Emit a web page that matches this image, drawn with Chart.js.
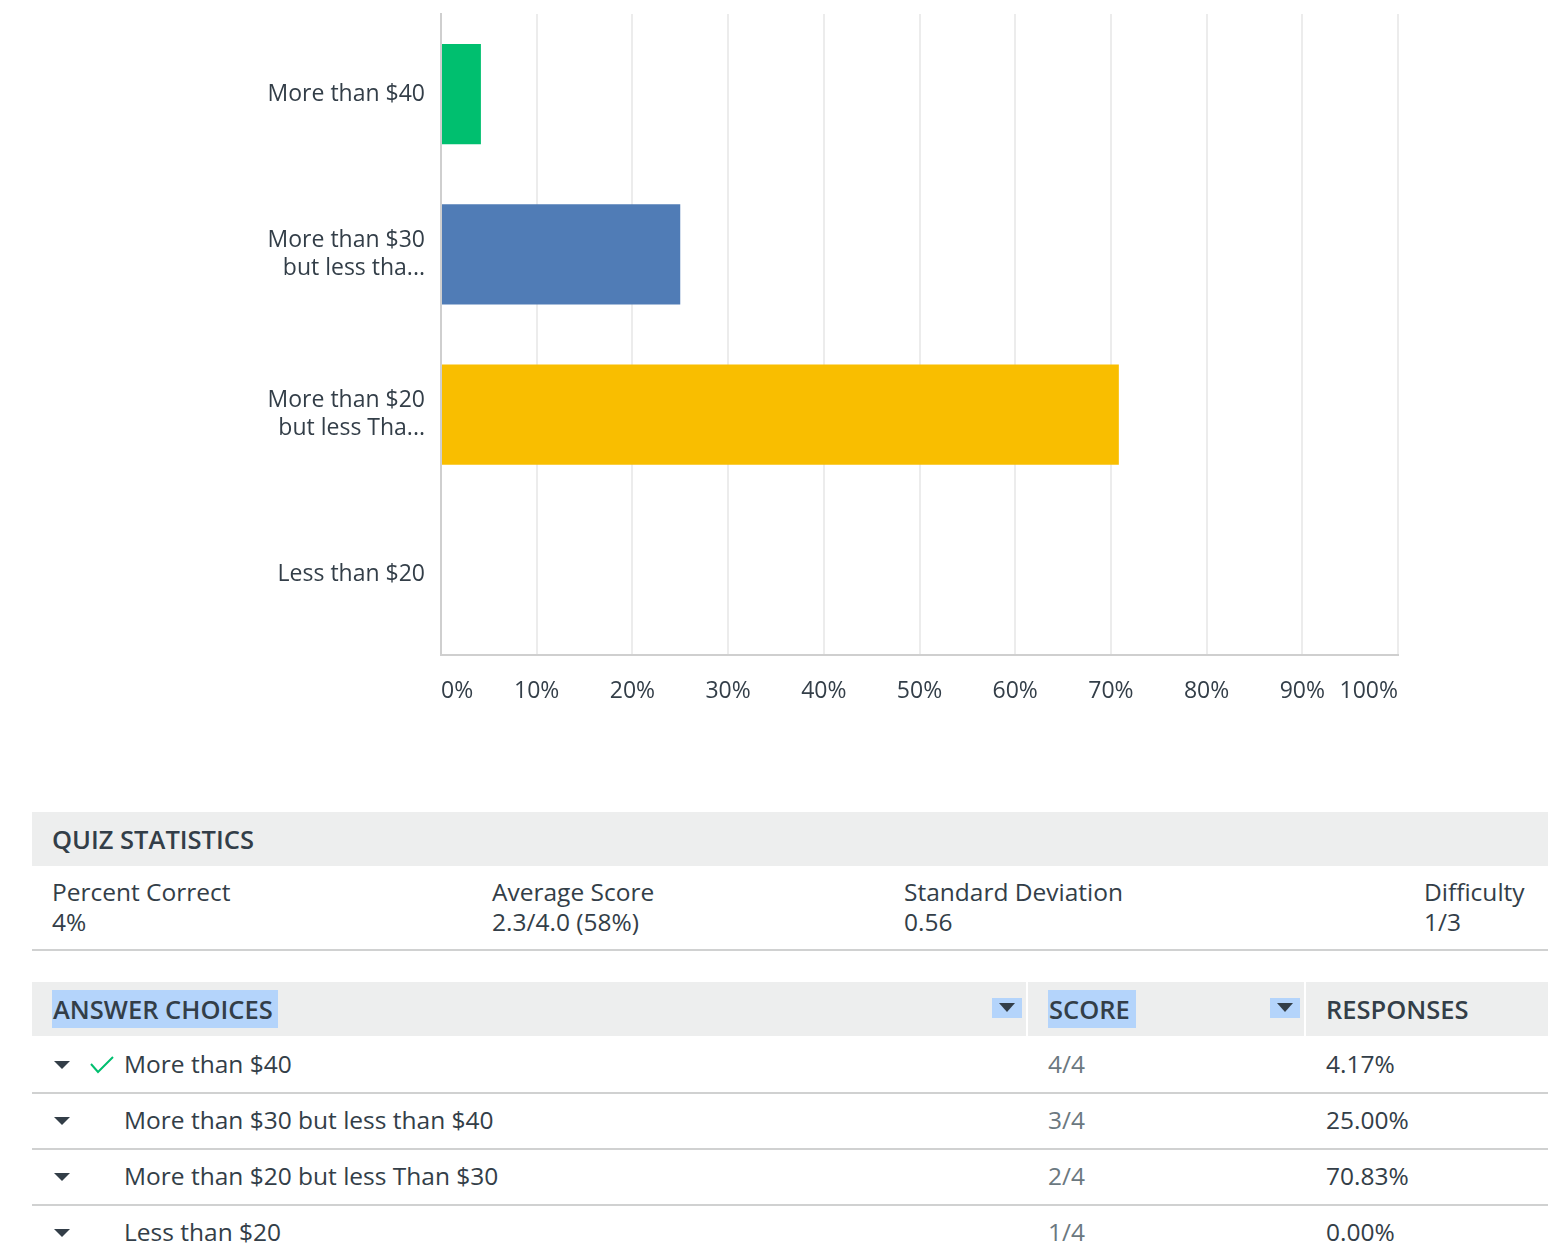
<!DOCTYPE html>
<html>
<head>
<meta charset="utf-8">
<script src="https://cdn.jsdelivr.net/npm/chart.js@4"></script>
<style>
  html, body { margin: 0; padding: 0; background: #fff; width: 1548px; height: 1258px; overflow: hidden; }
  body { font-family: "Open Sans", sans-serif; color: #333e48; position: relative; }
  #chartBox { position: absolute; left: 0; top: 0; width: 1548px; height: 740px; }
  .band { position: absolute; background: #edeeee; }
  .abs { position: absolute; white-space: nowrap; font-size: 24.5px; line-height: 30px; }
  .hdr { font-weight: 600; font-size: 25.5px; }
  .sel { background: #b4d4fb; }
  .rule { position: absolute; left: 32px; width: 1516px; height: 2px; background: #d0d1d1; }
  .caret { position: absolute; width: 0; height: 0; border-left: 8px solid transparent; border-right: 8px solid transparent; border-top: 8px solid #333e48; }
  .sortbox { position: absolute; width: 30px; height: 20px; background: #b4d4fb; }
  .sortbox::after { content: ""; position: absolute; left: 7px; top: 5px; border-left: 8px solid transparent; border-right: 8px solid transparent; border-top: 9px solid #333e48; }
  .score { color: #6b787f; }
</style>
</head>
<body>
<div id="chartBox"><canvas id="c" width="1548" height="740"></canvas></div>

<!-- Quiz statistics -->
<div class="band" style="left:32px; top:812px; width:1516px; height:54px;"></div>
<div class="abs hdr" style="left:52px; top:824px;">QUIZ STATISTICS</div>
<div id="stats"></div>
<div class="rule" style="top:949px;"></div>

<!-- Answer choices table -->
<div class="band" style="left:32px; top:982px; width:994px; height:54px;"></div>
<div class="band" style="left:1028px; top:982px; width:276px; height:54px;"></div>
<div class="band" style="left:1306px; top:982px; width:242px; height:54px;"></div>
<div class="abs hdr" style="left:52px; top:994px;"><span class="sel" style="padding:2px 5px 2px 1px;">ANSWER CHOICES</span></div>
<div class="sortbox" style="left:992px; top:998px;"></div>
<div class="abs hdr" style="left:1048px; top:994px;"><span class="sel" style="padding:2px 6px 2px 1px;">SCORE</span></div>
<div class="sortbox" style="left:1270px; top:998px;"></div>
<div class="abs hdr" style="left:1326px; top:994px;">RESPONSES</div>
<div id="rows"></div>

<script>
// ---- data ----
const categories = [["More than $40"], ["More than $30", "but less tha..."], ["More than $20", "but less Tha..."], ["Less than $20"]];
const responses = [4.17, 25.00, 70.83, 0.00];
const barColors = ["#00bf6f", "#507cb6", "#f9be00", "#6bc8cd"];
const xTicks = [0, 10, 20, 30, 40, 50, 60, 70, 80, 90, 100];

const fullChoices = ["More than $40", "More than $30 but less than $40", "More than $20 but less Than $30", "Less than $20"];
const scores = ["4/4", "3/4", "2/4", "1/4"];
const correct = [true, false, false, false];
const statLabels = ["Percent Correct", "Average Score", "Standard Deviation", "Difficulty"];
const statValues = ["4%", "2.3/4.0 (58%)", "0.56", "1/3"];
const statX = [52, 492, 904, 1424];

// ---- stats ----
const statsEl = document.getElementById('stats');
statLabels.forEach((l, i) => {
  const d = document.createElement('div');
  d.className = 'abs';
  d.style.left = statX[i] + 'px';
  d.style.top = '877px';
  d.innerHTML = l + '<br>' + statValues[i];
  statsEl.appendChild(d);
});

// ---- rows ----
const rowsEl = document.getElementById('rows');
fullChoices.forEach((c, i) => {
  const top = 1036 + i * 56;
  const mid = top + 29;
  let h = '';
  h += `<div class="caret" style="left:54px; top:${mid - 4}px;"></div>`;
  if (correct[i]) {
    h += `<svg style="position:absolute; left:88px; top:${mid - 10}px;" width="28" height="20" viewBox="0 0 28 20"><polyline points="3,9 10,17 25,2" fill="none" stroke="#00bf6f" stroke-width="2"/></svg>`;
  }
  h += `<div class="abs" style="left:124px; top:${mid - 16}px;">${c}</div>`;
  h += `<div class="abs score" style="left:1048px; top:${mid - 16}px;">${scores[i]}</div>`;
  h += `<div class="abs" style="left:1326px; top:${mid - 16}px;">${responses[i].toFixed(2)}%</div>`;
  if (i < fullChoices.length - 1) h += `<div class="rule" style="top:${top + 56}px;"></div>`;
  rowsEl.insertAdjacentHTML('beforeend', h);
});

// ---- chart ----
const FONT = '"Open Sans", sans-serif';
new Chart(document.getElementById('c'), {
  type: 'bar',
  data: {
    labels: categories,
    datasets: [{
      data: responses,
      backgroundColor: barColors,
      borderWidth: 0,
      barPercentage: 0.625,
      categoryPercentage: 1.0
    }]
  },
  options: {
    indexAxis: 'y',
    responsive: false,
    animation: false,
    layout: { padding: { top: 14, right: 150, left: 0, bottom: 0 } },
    plugins: { legend: { display: false }, tooltip: { enabled: false } },
    scales: {
      x: {
        min: 0, max: 100,
        afterBuildTicks: (s) => { s.ticks = xTicks.map(v => ({ value: v })); },
        afterFit: (s) => { s.height = 85; s.paddingLeft = 0; s.paddingRight = 0; },
        grid: { color: '#ececec', lineWidth: 2, drawTicks: false },
        border: { display: true, color: '#cfcfcf', width: 2 },
        ticks: {
          align: 'inner',
          padding: 23,
          maxRotation: 0,
          autoSkip: false,
          color: '#333e48',
          font: { family: FONT, size: 23 },
          callback: (v) => v + '%'
        }
      },
      y: {
        afterFit: (s) => { s.width = 441; s.paddingTop = 0; s.paddingBottom = 0; },
        grid: { display: false, drawTicks: false },
        border: { display: true, color: '#cfcfcf', width: 2 },
        ticks: {
          padding: 16,
          color: '#333e48',
          font: { family: FONT, size: 23, lineHeight: 1.22 }
        }
      }
    }
  }
});
</script>
</body>
</html>
